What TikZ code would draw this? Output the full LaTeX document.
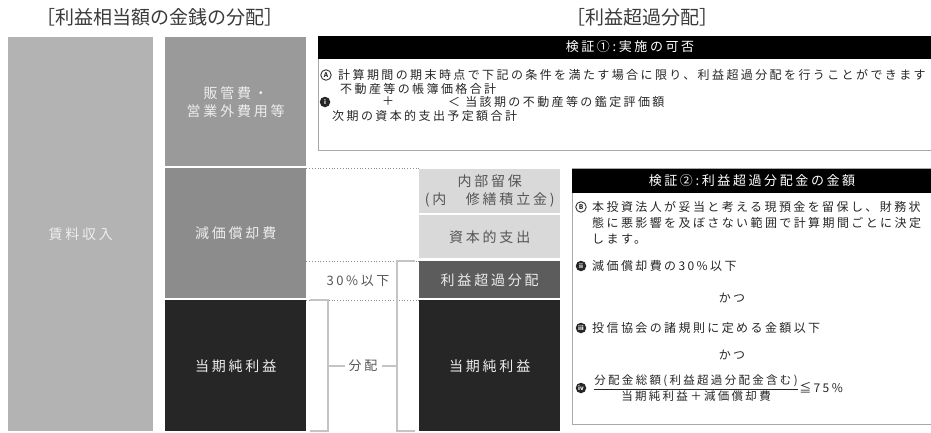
\documentclass[tikz,border=0pt]{standalone}
\usepackage{fontspec}
\setmainfont{Noto Sans CJK JP}
\newfontfamily\spcfont[LetterSpace=20]{Noto Sans CJK JP}
\newcommand\fsz[2]{\fontsize{#1}{#2}\selectfont}
\definecolor{cRent}{HTML}{B3B3B3}
\definecolor{cSga}{HTML}{9A9A9A}
\definecolor{cDep}{HTML}{8C8C8C}
\definecolor{cDark}{HTML}{262626}
\definecolor{cLight}{HTML}{D9D9D9}
\definecolor{cRoc}{HTML}{5C5C5C}
\definecolor{cLt}{HTML}{EDEDED}
\definecolor{cTxt}{HTML}{262626}
\definecolor{cTitle}{HTML}{3A3A3A}
\definecolor{cGray}{HTML}{555555}
\definecolor{cBox}{HTML}{A8A8A8}
\definecolor{cBrk}{HTML}{C4C4C4}
\begin{document}
\begin{tikzpicture}[x=1pt,y=-1pt,
  blk/.style={rectangle, inner sep=0pt, anchor=north west, text=cLt, font=\spcfont\fsz{14}{18}, align=center},
  dotline/.style={draw=black!45, dotted, line width=0.8pt},
  brk/.style={draw=cBrk, line width=1.4pt},
  title/.style={text=cTitle, font=\fsz{19}{22}, inner sep=0pt},
  frame/.style={draw=cBox, line width=1.2pt, fill=white, anchor=north west, inner sep=0pt},
  hdr/.style={fill=black, anchor=north west, inner sep=0pt},
  hdrtext/.style={text=white, font=\spcfont\fsz{13}{16}, inner sep=0pt},
  txt/.style={anchor=west, inner sep=0pt, text=cTxt, font=\spcfont\fsz{12}{15}},
  mk/.style={circle, fill=black!85, text=white, inner sep=0pt, minimum size=10.5pt, font=\fsz{6}{6}\bfseries},
  mko/.style={circle, draw=black!80, fill=white, line width=0.9pt, text=black!85, inner sep=0pt, minimum size=10.5pt, font=\fsz{6.5}{6.5}\bfseries}
]
\useasboundingbox (0,0) rectangle (931,432);
\clip (0,0) rectangle (931,432);

% titles
\node[title] (title1) at (160,17) {［利益相当額の金銭の分配］};
\node[title] (title2) at (642,17) {［利益超過分配］};

% left columns
\node[blk, fill=cRent, minimum width=145pt, minimum height=394pt] (rent) at (8,37) {賃料収入};
\node[blk, fill=cSga, minimum width=141pt, minimum height=129pt] (sga) at (165,37) {販管費・\\営業外費用等};
\node[blk, fill=cDep, minimum width=141pt, minimum height=130pt] (dep) at (165,168) {減価償却費};
\node[blk, fill=cDark, minimum width=141pt, minimum height=131pt] (ni1) at (165,300) {当期純利益};

% right column
\node[blk, fill=cLight, text=cGray, minimum width=141pt, minimum height=44pt] (rsv) at (419,169) {内部留保\\(内　修繕積立金)};
\node[blk, fill=cLight, text=cGray, minimum width=141pt, minimum height=43pt] (capex) at (419,215) {資本的支出};
\node[blk, fill=cRoc, minimum width=141pt, minimum height=37pt] (roc) at (419,261) {利益超過分配};
\node[blk, fill=cDark, minimum width=141pt, minimum height=131pt] (ni2) at (419,300) {当期純利益};

% dotted guide lines
\draw[dotline] (dep.north east) -- (dep.north east -| rsv.west);
\draw[dotline] (dep.east |- roc.north) -- (roc.north west);
\draw[dotline] (ni1.north east) -- (ni2.north west);

% 30% label
\node[text=cGray, font=\spcfont\fsz{13}{15}, inner sep=0pt] (pct) at (358,281) {30\%以下};

% brackets
\coordinate (rbT) at (415,261);
\coordinate (rbB) at (415,431);
\coordinate (lbT) at (310,300);
\coordinate (lbB) at (310,431);
\draw[brk] (rbT) -- (397,261) -- (397,431) -- (rbB);
\draw[brk] (lbT) -- (328,300) -- (328,431) -- (lbB);
\node[text=cGray, font=\spcfont\fsz{13}{15}, inner sep=4pt] (dist) at (363,366) {分配};
\draw[brk, line width=1.2pt] (328,366) -- (dist.west);
\draw[brk, line width=1.2pt] (dist.east) -- (397,366);

% box 1
\node[frame, minimum width=630pt, minimum height=114pt] (box1) at (318,36) {};
\node[hdr, minimum width=630pt, minimum height=23pt] (h1) at (318,36) {};
\node[hdrtext] (h1t) at (630,47) {検証①:実施の可否};
\node[mko] (mA) at (326,75) {A};
\node[txt] (t11) at (338,75) {計算期間の期末時点で下記の条件を満たす場合に限り、利益超過分配を行うことができます};
\node[txt] (t12) at (340,89) {不動産等の帳簿価格合計};
\node[mk] (m1) at (325,102) {i};
\node[txt] (t13) at (382,101) {＋};
\node[txt] (t14) at (448,102) {＜ 当該期の不動産等の鑑定評価額};
\node[txt] (t15) at (332,116) {次期の資本的支出予定額合計};

% box 2
\node[frame, minimum width=370pt, minimum height=256pt] (box2) at (572,168) {};
\node[hdr, minimum width=370pt, minimum height=24pt] (h2) at (572,169) {};
\node[hdrtext] (h2t) at (752,181) {検証②:利益超過分配金の金額};
\node[mko] (mB) at (581,207) {B};
\node[txt] (t21) at (592,207) {本投資法人が妥当と考える現預金を留保し、財務状};
\node[txt] (t22) at (592,223) {態に悪影響を及ぼさない範囲で計算期間ごとに決定};
\node[txt] (t23) at (592,239) {します。};
\node[mk] (m2) at (581,266) {ii};
\node[txt] (t24) at (592,266) {減価償却費の30\%以下};
\node[txt, anchor=center] (k1) at (732,298) {かつ};
\node[mk] (m3) at (581,328) {iii};
\node[txt] (t25) at (592,328) {投信協会の諸規則に定める金額以下};
\node[txt, anchor=center] (k2) at (732,355) {かつ};
\node[mk] (m4) at (581,388) {iv};
\node[txt, font=\spcfont\fsz{11.5}{15}] (frac) at (593,388) {$\displaystyle\frac{\mbox{分配金総額(利益超過分配金含む)}}{\mbox{当期純利益＋減価償却費}}$};
\node[txt] (le) at (frac.east) {≦75\%};
\end{tikzpicture}
\end{document}
